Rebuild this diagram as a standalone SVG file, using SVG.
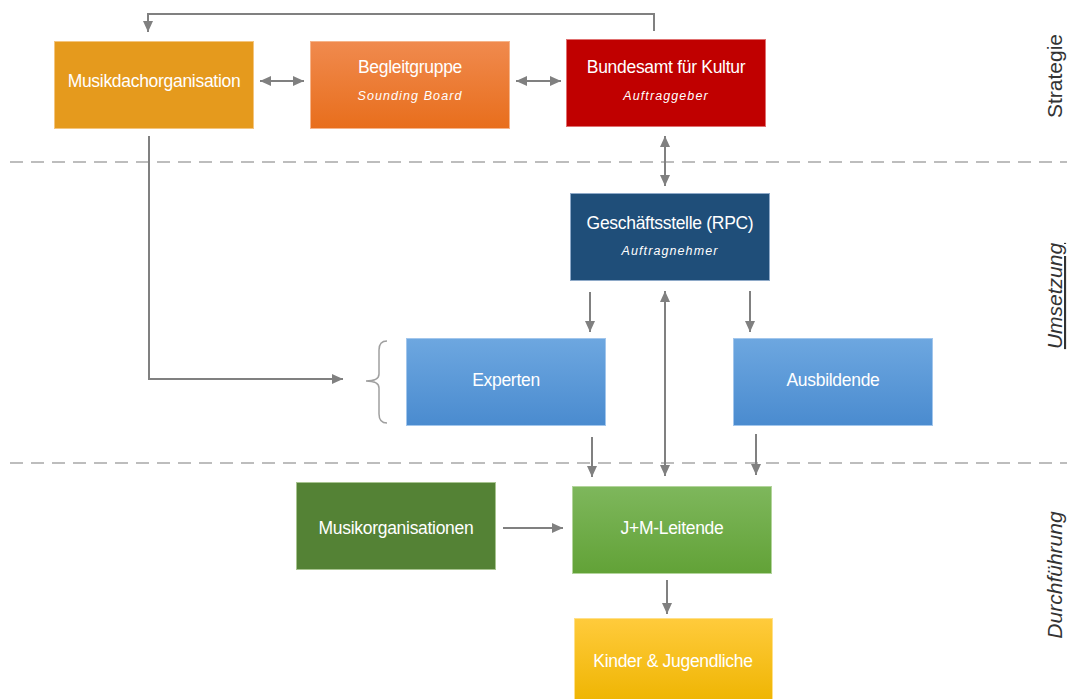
<svg xmlns="http://www.w3.org/2000/svg" width="1067" height="699" viewBox="0 0 1067 699">
<style>
.t{font-family:"Liberation Sans",Arial,sans-serif;font-size:17.5px;fill:#fff;text-anchor:middle;letter-spacing:-0.3px}
.s{font-family:"Liberation Sans",Arial,sans-serif;font-size:12.5px;fill:#fff;text-anchor:middle;font-style:italic;letter-spacing:1.1px}
.c{fill:none;stroke:#808080;stroke-width:2}
.d{fill:none;stroke:#BDBDBD;stroke-width:2.2;stroke-dasharray:13 8}
.lab{font-family:"Liberation Sans",Arial,sans-serif;font-size:21px;fill:#333;text-anchor:middle}
</style>
<defs>
<marker id="ah" markerUnits="userSpaceOnUse" markerWidth="12" markerHeight="12" viewBox="0 0 12 12" refX="11" refY="6" orient="auto-start-reverse">
<path d="M0,1 L11,6 L0,11 Z" fill="#808080"/>
</marker>
<linearGradient id="gOr" x1="0" y1="0" x2="0" y2="1"><stop offset="0" stop-color="#F08A4E"/><stop offset="1" stop-color="#E86E1C"/></linearGradient>
<linearGradient id="gBl" x1="0" y1="0" x2="0" y2="1"><stop offset="0" stop-color="#6DA7E0"/><stop offset="1" stop-color="#4A8BCF"/></linearGradient>
<linearGradient id="gGr" x1="0" y1="0" x2="0" y2="1"><stop offset="0" stop-color="#7EB75C"/><stop offset="1" stop-color="#62A237"/></linearGradient>
<linearGradient id="gYe" x1="0" y1="0" x2="0" y2="1"><stop offset="0" stop-color="#FFCB3C"/><stop offset="1" stop-color="#EEB400"/></linearGradient>
</defs>
<rect width="1067" height="699" fill="#fff"/>
<g id="separators">
<line class="d" x1="10" y1="162" x2="1067" y2="162"/>
<line class="d" x1="10" y1="463" x2="1067" y2="463"/>
</g>
<g id="connectors">
<path class="c" d="M654,31 V14 H148 V32" marker-end="url(#ah)"/>
<line class="c" x1="260" y1="81" x2="304" y2="81" marker-start="url(#ah)" marker-end="url(#ah)"/>
<line class="c" x1="516" y1="81" x2="561" y2="81" marker-start="url(#ah)" marker-end="url(#ah)"/>
<line class="c" x1="665" y1="136" x2="665" y2="186" marker-start="url(#ah)" marker-end="url(#ah)"/>
<path class="c" d="M149,136 V379 H343" marker-end="url(#ah)"/>
<path d="M387,341 Q379,341 379,350 V374 Q379,381 366,381 Q379,381 379,388 V414 Q379,423 387,423" fill="none" stroke="#A0A0A0" stroke-width="1.5"/>
<line class="c" x1="590" y1="292" x2="590" y2="332" marker-end="url(#ah)"/>
<line class="c" x1="750" y1="291" x2="750" y2="332" marker-end="url(#ah)"/>
<line class="c" x1="665" y1="291" x2="665" y2="476" marker-start="url(#ah)" marker-end="url(#ah)"/>
<line class="c" x1="592" y1="437" x2="592" y2="477" marker-end="url(#ah)"/>
<line class="c" x1="756" y1="434" x2="756" y2="475" marker-end="url(#ah)"/>
<line class="c" x1="503" y1="528" x2="563" y2="528" marker-end="url(#ah)"/>
<line class="c" x1="667" y1="580" x2="667" y2="614" marker-end="url(#ah)"/>
</g>
<g id="n-musikdach">
<rect x="54.5" y="41.5" width="199" height="87" fill="#E59A1D" stroke="#F4C57E"/>
<text class="t" x="154" y="87">Musikdachorganisation</text>
</g>
<g id="n-begleit">
<rect x="310.5" y="41.5" width="199" height="87" fill="url(#gOr)" stroke="#F6B48A"/>
<text class="t" x="410" y="73">Begleitgruppe</text>
<text class="s" x="410" y="100">Sounding Board</text>
</g>
<g id="n-bak">
<rect x="566.5" y="39.5" width="199" height="87" fill="#C00000" stroke="#E07070"/>
<text class="t" x="666" y="73">Bundesamt für Kultur</text>
<text class="s" x="666" y="100">Auftraggeber</text>
</g>
<g id="n-rpc">
<rect x="570.5" y="193.5" width="199" height="87" fill="#1F4E79" stroke="#8EA9C8"/>
<text class="t" x="670" y="229">Geschäftsstelle (RPC)</text>
<text class="s" x="670" y="255">Auftragnehmer</text>
</g>
<g id="n-experten">
<rect x="406.5" y="338.5" width="199" height="87" fill="url(#gBl)" stroke="#A2C6EC"/>
<text class="t" x="506" y="386">Experten</text>
</g>
<g id="n-ausbildende">
<rect x="733.5" y="338.5" width="199" height="87" fill="url(#gBl)" stroke="#A2C6EC"/>
<text class="t" x="833" y="386">Ausbildende</text>
</g>
<g id="n-musikorg">
<rect x="296.5" y="482.5" width="199" height="87" fill="#548235" stroke="#A8C490"/>
<text class="t" x="396" y="534">Musikorganisationen</text>
</g>
<g id="n-jm">
<rect x="572.5" y="486.5" width="199" height="87" fill="url(#gGr)" stroke="#B3D49C"/>
<text class="t" x="672" y="534">J+M-Leitende</text>
</g>
<g id="n-kinder">
<rect x="574.5" y="618.5" width="198" height="86" fill="url(#gYe)" stroke="#FFE08A"/>
<text class="t" x="673" y="667">Kinder &amp; Jugendliche</text>
</g>
<g id="levels">
<text class="lab" transform="translate(1062,76) rotate(-90)">Strategie</text>
<text class="lab" transform="translate(1062,296) rotate(-90)" font-style="italic" text-decoration="underline">Umsetzung</text>
<text class="lab" transform="translate(1062,575) rotate(-90)" font-style="italic">Durchführung</text>
</g>
</svg>
